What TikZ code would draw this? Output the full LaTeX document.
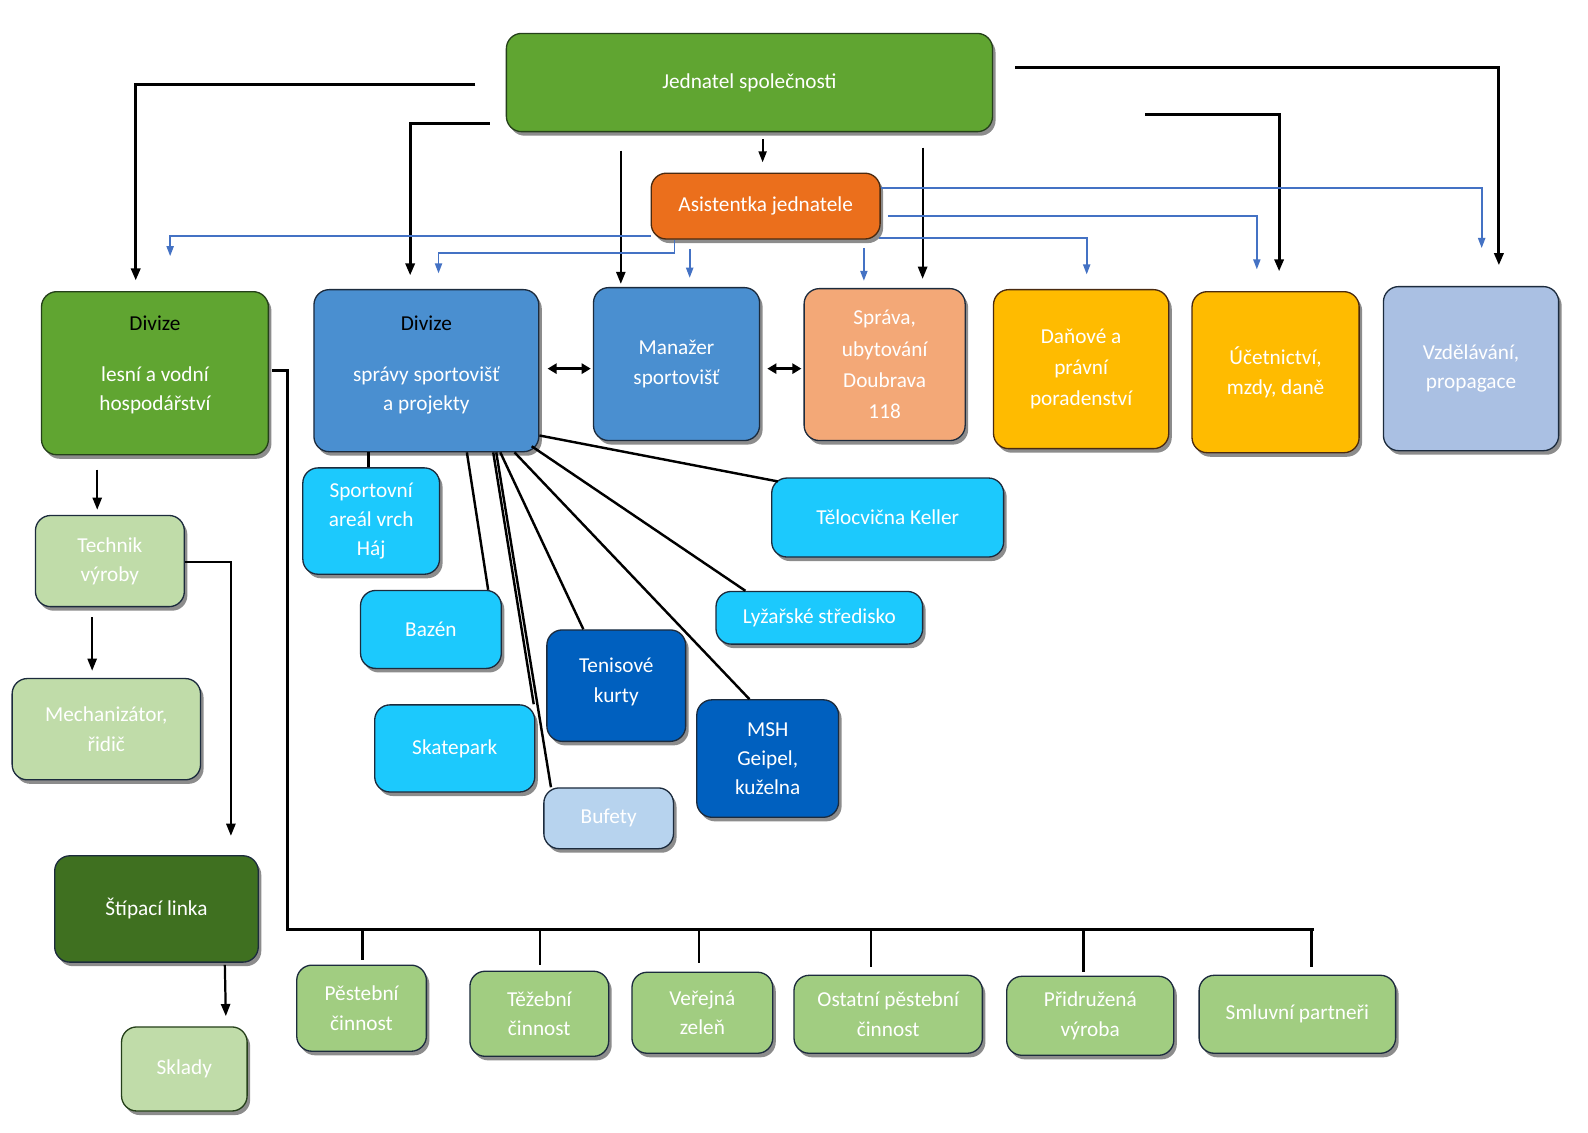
\documentclass[tikz,border=0pt]{standalone}
\usepackage{fontspec}
\setmainfont{Carlito}
\usetikzlibrary{arrows.meta,shadows,calc}
\definecolor{gJed}{HTML}{60A531}
\definecolor{cOrange}{HTML}{EB6F1C}
\definecolor{bDiv}{HTML}{4A8FD0}
\definecolor{cSalmon}{HTML}{F3A877}
\definecolor{cYellow}{HTML}{FFBB00}
\definecolor{lBlue}{HTML}{AAC0E3}
\definecolor{lGreen}{HTML}{C0DCA9}
\definecolor{dGreen}{HTML}{3F7020}
\definecolor{cCyan}{HTML}{1CC9FD}
\definecolor{dBlue}{HTML}{0060BF}
\definecolor{cBuf}{HTML}{B7D3EE}
\definecolor{mGreen}{HTML}{A1CD81}
\definecolor{edgeC}{HTML}{1C2B3D}
\definecolor{edgeG}{HTML}{25401A}
\definecolor{edgeO}{HTML}{4A2A10}
\definecolor{blueLine}{HTML}{4472C4}
\begin{document}
\begin{tikzpicture}[x=1pt,y=-1pt,
  box/.style={rounded corners=15pt, draw=edgeC, line width=1.3pt, text=white,
    align=center, font=\fontsize{21}{29}\selectfont, inner sep=0pt,
    drop shadow={shadow xshift=3pt,shadow yshift=-4pt,opacity=0.45,fill=black}},
  sz/.style 2 args={minimum width=#1pt, minimum height=#2pt},
  blk/.style={line width=3pt, black, -{Triangle[length=12pt,width=9pt]}},
  blkthin/.style={line width=2.2pt, black, -{Triangle[length=12pt,width=9pt]}},
  blu/.style={line width=1.8pt, blueLine, -{Triangle[length=10pt,width=7pt]}},
  dbl/.style={line width=3pt, black, {Triangle[length=9pt,width=10pt]}-{Triangle[length=9pt,width=10pt]}},
  spoke/.style={line width=2.4pt, black},
  bus/.style={line width=3pt, black},
  dropl/.style={line width=2.4pt, black}
]
\path[use as bounding box, fill=white] (0,0) rectangle (1568,1118);

% boxes
\node[box, sz={480}{97}, fill=gJed, draw=edgeG] (jed) at (740,81.5) {Jednatel společnosti};
\node[box, sz={226}{65}, fill=cOrange, draw=edgeO] (asi) at (756,203.5) {Asistentka jednatele};
\node[box, sz={224}{161}, fill=gJed, draw=edgeG] (dles) at (153,368.5) {\textcolor{black}{Divize}\\[21pt]lesní a vodní\\hospodářství\\[-10pt]\mbox{}};
\node[box, sz={222}{160}, fill=bDiv] (dspr) at (421,366) {\textcolor{black}{Divize}\\[21pt]správy sportovišť\\a projekty\\[-14pt]\mbox{}};
\node[box, sz={164}{151}, fill=bDiv] (man) at (668,359.5) {Manažer\\sportovišť};
\node[box, sz={159}{150}, fill=cSalmon, font=\fontsize{21}{31}\selectfont] (spr) at (873.5,360) {Správa,\\ubytování\\Doubrava\\118};
\node[box, sz={173}{157}, fill=cYellow, draw=edgeO, font=\fontsize{21}{30.5}\selectfont] (dan) at (1067.5,364.5) {Daňové a\\právní\\poradenství};
\node[box, sz={165}{159}, fill=cYellow, draw=edgeO] (uce) at (1259.5,367.5) {Účetnictví,\\mzdy, daně};
\node[box, sz={173}{162}, fill=lBlue] (vzd) at (1452.5,364) {Vzdělávání,\\propagace};
\node[box, sz={147}{90}, fill=lGreen] (tech) at (108.5,554) {Technik\\výroby};
\node[box, sz={186}{100}, fill=lGreen] (mech) at (105,720) {Mechanizátor,\\řidič};
\node[box, sz={201}{105}, fill=dGreen] (stip) at (154.5,897.5) {Štípací linka};
\node[box, sz={124}{83}, fill=lGreen, draw=edgeG] (skl) at (182,1055.5) {Sklady};
\node[box, sz={135}{105}, fill=cCyan] (spa) at (366.5,514.5) {Sportovní\\areál vrch\\Háj};
\node[box, sz={139}{77}, fill=cCyan] (baz) at (425.5,621.5) {Bazén};
\node[box, sz={158}{86}, fill=cCyan] (ska) at (449,739) {Skatepark};
\node[box, sz={128}{60}, fill=cBuf] (buf) at (601,808) {Bufety};
\node[box, sz={137}{110}, fill=dBlue] (ten) at (608.5,677) {Tenisové\\kurty\\[-18pt]\mbox{}};
\node[box, sz={140}{116}, fill=dBlue] (msh) at (758,749) {MSH\\Geipel,\\kuželna};
\node[box, sz={204}{52}, fill=cCyan] (lyz) at (809,610) {Lyžařské středisko};
\node[box, sz={229}{78}, fill=cCyan] (tel) at (876.5,511) {Tělocvična Keller};
\node[box, sz={128}{85}, fill=mGreen] (pes) at (357,995.5) {Pěstební\\činnost};
\node[box, sz={137}{84}, fill=mGreen] (tez) at (532.5,1001) {Těžební\\činnost};
\node[box, sz={139}{80}, fill=mGreen] (ver) at (693.5,1000) {Veřejná\\zeleň};
\node[box, sz={186}{77}, fill=mGreen] (ost) at (877,1001.5) {Ostatní pěstební\\činnost};
\node[box, sz={165}{78}, fill=mGreen] (pri) at (1076.5,1003) {Přidružená\\výroba};
\node[box, sz={194}{77}, fill=mGreen] (sml) at (1281,1001.5) {Smluvní partneři};

% black connectors from Jednatel
\coordinate (e1) at (134,277);
\coordinate (e2) at (405,272);
\coordinate (e6) at (1480,262);
\coordinate (e7) at (1263,268);
\draw[blk] ($(jed.west |- 0,83)+(-30,0)$) -| (e1);
\draw[blk] ($(jed.west |- 0,122)+(-16,0)$) -| (e2);
\draw[blkthin] ($(jed.south -| 613,0)+(0,18)$) -- ($(man.north -| 613,0)+(0,-3)$);
\draw[line width=2pt, black, -{Triangle[length=11pt,width=8pt]}] ($(jed.south -| 753,0)+(0,7)$) -- ($(asi.north -| 753,0)+(0,-10)$);
\draw[blkthin] ($(jed.south -| 911,0)+(0,15)$) -- ($(spr.north -| 911,0)+(0,-9)$);
\draw[blk] ($(jed.east |- 0,67)+(22,0)$) -| (e6);
\draw[blk] ($(jed.east |- 0,113)+(150,0)$) -| (e7);

% blue connectors from Asistentka
\coordinate (f1) at (168,253);
\coordinate (f2) at (433,270);
\coordinate (f5) at (1463,245);
\coordinate (f6) at (1241,266);
\coordinate (f7) at (1073,271);
\draw[blu] (asi.west |- 0,233) -| (f1);
\draw[blu] (asi.south -| 666,0) -- (666,250) -| (f2);
\draw[blu] ($(asi.south -| 681,0)+(0,9)$) -- ($(man.north -| 681,0)+(0,-9)$);
\draw[blu] ($(asi.south -| 853,0)+(0,8)$) -- ($(spr.north -| 853,0)+(0,-7)$);
\draw[blu] (asi.east |- 0,186) -| (f5);
\draw[blu] ($(asi.east |- 0,213)+(7,0)$) -| (f6);
\draw[blu] ($(asi.east |- 0,235)+(-2,0)$) -| (f7);

% double arrows
\draw[dbl] ($(dspr.east |- 0,364)+(8,0)$) -- ($(man.west |- 0,364)+(-2,0)$);
\draw[dbl] ($(man.east |- 0,364)+(7,0)$) -- ($(spr.west |- 0,364)+(-2,0)$);

% spokes from Divize spravy sportovist
\draw[spoke] (dspr.south -| 364,0) -- (spa.north -| 364,0);
\draw[spoke] (dspr.south -| 461,0) -- (baz.north -| 482,0);
\draw[spoke] (dspr.south -| 487,0) -- (ska.north -| 527,0);
\draw[spoke] (dspr.south -| 490,0) -- (buf.north -| 544,0);
\draw[spoke] (dspr.south -| 494,0) -- (ten.north -| 576,0);
\draw[spoke] (dspr.south -| 508,0) -- (msh.north -| 740,0);
\draw[spoke] ($(dspr.south -| 525,0)+(0,-6)$) -- (lyz.north -| 736,0);
\draw[spoke] (dspr.east |- 0,430) -- ($(tel.north -| 768,0)+(0,4)$);

% Divize lesni a vodni hospodarstvi
\coordinate (busend) at (1297,918);
\draw[bus] ($(dles.east |- 0,366)+(3,0)$) -- (284,366) |- (busend);
\draw[dropl] (busend -| 358,0) -- ($(pes.north -| 358,0)+(0,-4)$);
\draw[dropl] (busend -| 533,0) -- ($(tez.north -| 533,0)+(0,-6)$);
\draw[dropl] (busend -| 690,0) -- ($(ver.north -| 690,0)+(0,-8)$);
\draw[dropl] (busend -| 860,0) -- ($(ost.north -| 860,0)+(0,-8)$);
\draw[dropl] (busend -| 1070,0) -- ($(pri.north -| 1070,0)+(0,-4)$);
\draw[dropl] (busend -| 1295,0) -- ($(sml.north -| 1295,0)+(0,-8)$);

\draw[blkthin] ($(dles.south -| 96,0)+(0,14)$) -- ($(tech.north -| 96,0)+(0,-5)$);
\draw[blkthin] ($(tech.south -| 91,0)+(0,10)$) -- ($(mech.north -| 91,0)+(0,-7)$);
\draw[blkthin] (tech.east |- 0,555) -- (228,555) -- ($(stip.north -| 228,0)+(0,-19)$);
\draw[blkthin] ($(stip.south -| 222,0)+(0,2)$) -- ($(skl.north -| 223,0)+(0,-10)$);
\end{tikzpicture}
\end{document}
